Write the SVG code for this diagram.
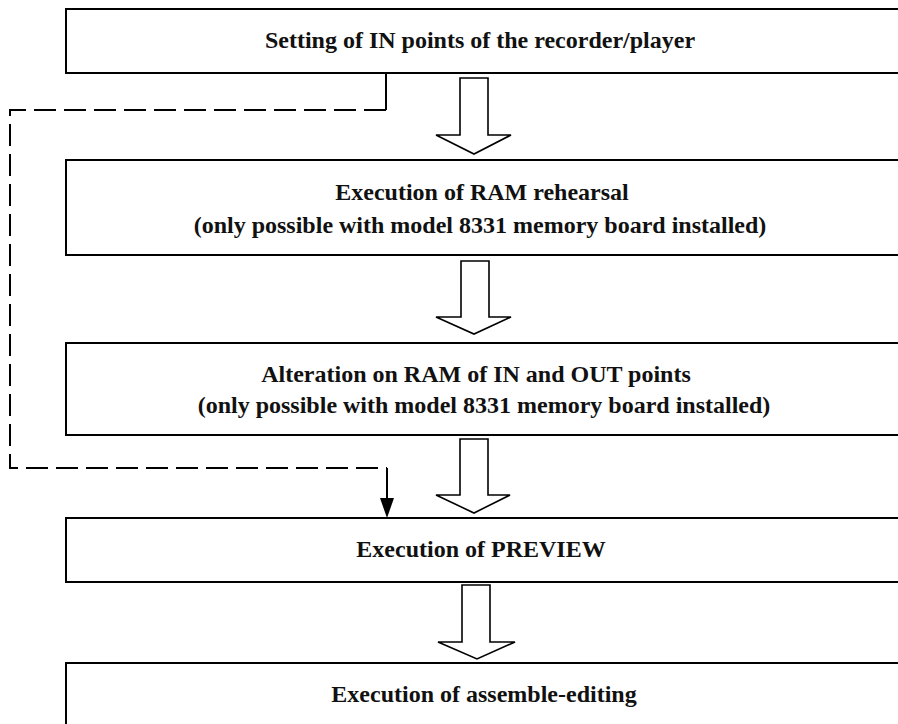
<svg xmlns="http://www.w3.org/2000/svg" width="898" height="724" viewBox="0 0 898 724">
<defs>
<style>
.box{fill:#fff;stroke:#000;stroke-width:2}
.t{font-family:"Liberation Serif","Times New Roman",serif;font-weight:bold;font-size:24px;fill:#111;text-anchor:middle}
.blk{fill:#fff;stroke:#000;stroke-width:1.6;stroke-linejoin:miter}
.dash{fill:none;stroke:#000;stroke-width:2;stroke-dasharray:22 8}
.sol{fill:none;stroke:#000;stroke-width:2}
</style>
</defs>
<rect width="898" height="724" fill="#fff"/>
<g id="n1">
<rect class="box" x="66" y="9" width="850" height="64"/>
<text class="t" x="480" y="48">Setting of IN points of the recorder/player</text>
</g>
<g id="n2">
<rect class="box" x="66" y="160" width="850" height="95"/>
<text class="t" x="482" y="200">Execution of RAM rehearsal</text>
<text class="t" x="480" y="233">(only possible with model 8331 memory board installed)</text>
</g>
<g id="n3">
<rect class="box" x="66" y="343" width="850" height="92"/>
<text class="t" x="476" y="382">Alteration on RAM of IN and OUT points</text>
<text class="t" x="484" y="413">(only possible with model 8331 memory board installed)</text>
</g>
<g id="n4">
<rect class="box" x="66" y="518" width="850" height="64"/>
<text class="t" x="481" y="557">Execution of PREVIEW</text>
</g>
<g id="n5">
<rect class="box" x="66" y="663" width="850" height="80"/>
<text class="t" x="484" y="702">Execution of assemble-editing</text>
</g>
<g id="connectors">
<path class="blk" d="M460,78 H488 V135 H511 L474,154 L436,135 H460 Z"/>
<path class="blk" d="M461,261 H489 V317 H511 L474,334 L436,317 H461 Z"/>
<path class="blk" d="M460,439 H488 V495 H510 L474,513 L436,495 H460 Z"/>
<path class="blk" d="M462,585 H490 V642 H515 L477,659 L438,642 H462 Z"/>
<path class="sol" d="M386,73 V110"/>
<path class="dash" d="M386,110 H10 V468 H387"/>
<path class="sol" d="M387,468 V500"/>
<polygon points="380,498 394,498 387,518" fill="#000"/>
</g>
</svg>
